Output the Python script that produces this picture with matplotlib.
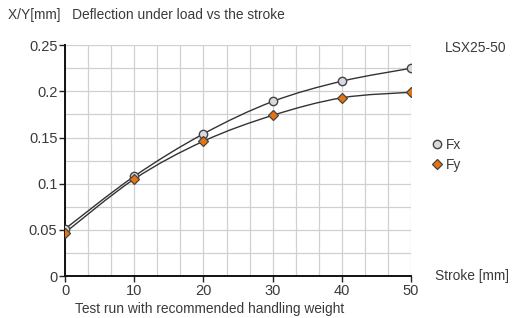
import numpy as np
import matplotlib.pyplot as plt
from matplotlib.path import Path
from matplotlib.patches import PathPatch

plt.rcParams['font.family'] = ['Liberation Sans', 'DejaVu Sans']

stroke = [0, 10, 20, 30, 40, 50]
fx = [0.051, 0.108, 0.154, 0.189, 0.211, 0.225]
fy = [0.047, 0.105, 0.146, 0.174, 0.193, 0.199]
xticks = [0, 10, 20, 30, 40, 50]
yticks = [0, 0.05, 0.1, 0.15, 0.2, 0.25]
ytick_labels = ['0', '0.05', '0.1', '0.15', '0.2', '0.25']

txt = '#3a3a3a'
fs = 9.9
fig = plt.figure(figsize=(5.12, 3.18), dpi=100)
ax = fig.add_axes([0.127, 0.132, 0.676, 0.726])


def smooth_path(x, y):
    # catmull-rom -> cubic bezier, drawn as a path through the data points
    x = np.asarray(x, float)
    y = np.asarray(y, float)
    verts = [(x[0], y[0])]
    codes = [Path.MOVETO]
    n = len(x)
    for i in range(n - 1):
        x0, y0 = (x[i - 1], y[i - 1]) if i > 0 else (x[i], y[i])
        x3, y3 = (x[i + 2], y[i + 2]) if i + 2 < n else (x[i + 1], y[i + 1])
        c1 = (x[i] + (x[i + 1] - x0) / 6, y[i] + (y[i + 1] - y0) / 6)
        c2 = (x[i + 1] - (x3 - x[i]) / 6, y[i + 1] - (y3 - y[i]) / 6)
        verts += [c1, c2, (x[i + 1], y[i + 1])]
        codes += [Path.CURVE4] * 3
    return Path(verts, codes)


for ys in (fx, fy):
    ax.add_patch(PathPatch(smooth_path(stroke, ys), fill=False,
                           edgecolor='#333333', lw=1.0, zorder=3))

ax.plot(stroke, fx, ls='none', marker='o', ms=6, mfc='#d9d9e1',
        mec='#444444', mew=1.0, zorder=4, label='Fx')
ax.plot(stroke, fy, ls='none', marker='D', ms=5, mfc='#e8740f',
        mec='#444444', mew=0.9, zorder=4, label='Fy')

ax.set_xlim(0, 50)
ax.set_ylim(0, 0.25)
ax.set_xticks(xticks)
ax.set_yticks(yticks)
ax.set_yticklabels(ytick_labels)
ax.set_xticks(np.arange(0, 50.01, 50 / 15), minor=True)
ax.set_yticks(np.arange(0, 0.2501, 0.025), minor=True)
ax.grid(True, which='both', color='#d0d0d0', lw=0.9, zorder=0)
ax.tick_params(which='minor', length=0)
ax.tick_params(which='major', length=4, width=1, color='#222222',
               labelsize=10.5, labelcolor=txt, pad=1.5)
for s in ('top', 'right'):
    ax.spines[s].set_visible(False)
for s in ('left', 'bottom'):
    ax.spines[s].set_linewidth(1.4)
    ax.spines[s].set_color('#111111')

fig.text(0.016, 0.952, 'X/Y[mm]   Deflection under load vs the stroke',
         fontsize=fs, color=txt, va='center')
fig.text(0.868, 0.85, 'LSX25-50', fontsize=fs, color=txt, va='center')
fig.text(0.85, 0.132, 'Stroke [mm]', fontsize=fs, color=txt, va='center')
fig.text(0.146, 0.028, 'Test run with recommended handling weight',
         fontsize=fs, color=txt, va='center')

fig.legend(loc='center left', bbox_to_anchor=(0.845, 0.513), frameon=False,
           handlelength=0.7, handletextpad=0.25, labelspacing=0.45,
           fontsize=fs, labelcolor=txt, borderaxespad=0, borderpad=0)

fig.savefig('out.png', dpi=100)
